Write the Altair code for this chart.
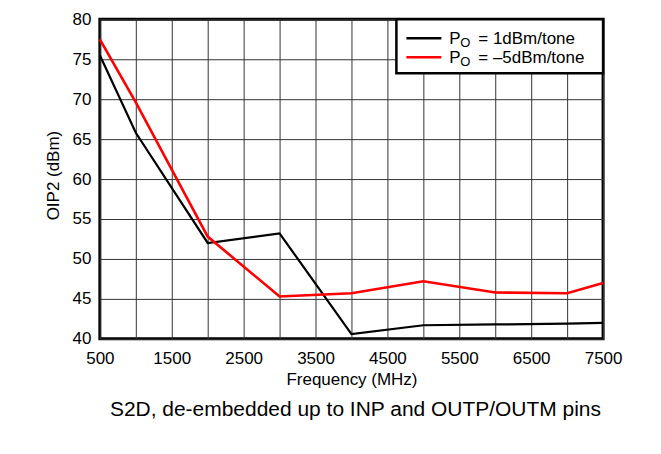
import altair as alt
import pandas as pd

# ---- data ----
freq_mhz = [500, 1000, 2000, 3000, 4000, 5000, 6000, 7000, 7500]
oip2_1dbm = [75.5, 65.8, 52.0, 53.2, 40.6, 41.7, 41.8, 41.9, 42.0]
oip2_m5dbm = [77.5, 69.6, 52.8, 45.3, 45.7, 47.2, 45.8, 45.7, 47.0]

legend_values = ["= 1dBm/tone", "= \u20135dBm/tone"]
series_colors = ["#000000", "#ff0000"]
caption = "S2D, de-embedded up to INP and OUTP/OUTM pins"
x_grid_values = list(range(500, 7501, 500))
y_grid_values = list(range(40, 81, 5))

FONT = "Liberation Sans"

df_black = pd.DataFrame({"f": freq_mhz, "v": oip2_1dbm})
df_red = pd.DataFrame({"f": freq_mhz, "v": oip2_m5dbm})

x_enc = alt.X(
    "f:Q",
    scale=alt.Scale(domain=[500, 7500], nice=False, zero=False),
    axis=alt.Axis(
        values=x_grid_values,
        labelExpr="(datum.value - 500) % 1000 == 0 ? datum.label : ''",
        format="d",
        grid=True,
        ticks=False,
        tickSize=0,
        domain=False,
        labelPadding=12,
        labelFlush=False,
        labelOverlap=False,
        labelFontSize=17,
        title="Frequency (MHz)",
        titleY=46,
        titleBaseline="alphabetic",
        titleFontSize=17,
    ),
)
y_enc = alt.Y(
    "v:Q",
    scale=alt.Scale(domain=[40, 80], nice=False, zero=False),
    axis=alt.Axis(
        values=y_grid_values,
        grid=True,
        ticks=False,
        tickSize=0,
        domain=False,
        labelPadding=9,
        labelFlush=False,
        labelOverlap=False,
        labelFontSize=17,
        title="OIP2 (dBm)",
        titleX=-41,
        titleY=156,
        titleAngle=270,
        titleAlign="center",
        titleBaseline="alphabetic",
        titleFontSize=17,
    ),
)

line_black = alt.Chart(df_black).mark_line(color=series_colors[0], strokeWidth=2.2).encode(x=x_enc, y=y_enc)
line_red = alt.Chart(df_red).mark_line(color=series_colors[1], strokeWidth=2.6).encode(x=x_enc, y=y_enc)

one = pd.DataFrame({"k": [0]})

legend_box = alt.Chart(one).mark_rect(fill="white", stroke="black", strokeWidth=2.5).encode(
    x=alt.value(297), x2=alt.value(504), y=alt.value(0), y2=alt.value(54)
)

layers = [line_black, line_red, legend_box]
for i, (lab, col) in enumerate(zip(legend_values, series_colors)):
    ly = 19 + 19 * i
    layers.append(
        alt.Chart(one).mark_rule(color=col, strokeWidth=2.6).encode(
            x=alt.value(307), x2=alt.value(342), y=alt.value(ly)
        )
    )
    ldf = pd.DataFrame({"p": ["P"], "o": ["O"], "t": [lab]})
    layers.append(
        alt.Chart(ldf).mark_text(align="left", baseline="alphabetic", font=FONT, fontSize=17, color="black").encode(
            x=alt.value(350), y=alt.value(ly + 6), text="p:N"
        )
    )
    layers.append(
        alt.Chart(ldf).mark_text(align="left", baseline="alphabetic", font=FONT, fontSize=13, color="black").encode(
            x=alt.value(361), y=alt.value(ly + 9), text="o:N"
        )
    )
    layers.append(
        alt.Chart(ldf).mark_text(align="left", baseline="alphabetic", font=FONT, fontSize=17, color="black").encode(
            x=alt.value(379), y=alt.value(ly + 6), text="t:N"
        )
    )

cap_df = pd.DataFrame({"c": [caption]})
layers.append(
    alt.Chart(cap_df).mark_text(align="center", baseline="alphabetic", font=FONT, fontSize=21, color="black").encode(
        x=alt.value(256), y=alt.value(397), text="c:N"
    )
)

chart = (
    alt.layer(*layers)
    .properties(
        width=504,
        height=320,
        autosize=alt.AutoSizeParams(type="none"),
        padding={"left": 92, "top": 11, "right": 50, "bottom": 100},
        background="white",
    )
    .configure_view(stroke="black", strokeWidth=3)
    .configure_axis(
        labelFont=FONT,
        titleFont=FONT,
        labelColor="black",
        titleColor="black",
        titleFontWeight="normal",
        gridColor="#333333",
        gridWidth=1,
        gridOpacity=1,
    )
)

chart.save("out.html", embed_options={"renderer": "svg", "actions": False})
